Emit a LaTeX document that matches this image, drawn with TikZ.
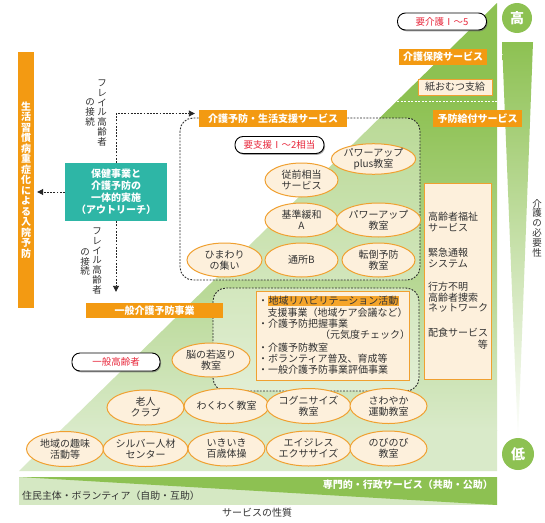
\documentclass[tikz,border=0pt]{standalone}
\usepackage{fontspec}
\setmainfont{Noto Sans CJK JP}
\usetikzlibrary{arrows.meta,calc,shadows,shapes.geometric}
\definecolor{gdark}{HTML}{8DC152}
\definecolor{glight}{HTML}{D9EAC9}
\definecolor{gband}{HTML}{D5E8C3}
\definecolor{orng}{HTML}{F39A12}
\definecolor{teal2}{HTML}{2EB6A6}
\definecolor{cream}{HTML}{FDF0DC}
\definecolor{ebord}{HTML}{F0A030}
\definecolor{redt}{HTML}{E8283C}
\definecolor{txt}{HTML}{333333}
\definecolor{hilite}{HTML}{F5A52A}
\tikzset{
 obox/.style={fill=orng, text=white, font=\fontsize{10}{12}\selectfont\bfseries, inner sep=0pt, minimum height=17pt},
 bub/.style={ellipse, draw=ebord, line width=1pt, fill=cream, text=txt, font=\fontsize{10}{11}\selectfont, align=center, minimum width=77pt, minimum height=35pt, inner sep=0pt},
 pill/.style={draw=black, line width=0.9pt, fill=white, rounded corners=8pt, text=redt, font=\fontsize{9.5}{11}\selectfont, minimum width=89pt, minimum height=17pt, inner sep=0pt, drop shadow={shadow xshift=1pt,shadow yshift=-1.3pt,fill=black!60,opacity=0.6}},
 dline/.style={draw=black!85, line width=0.9pt, dash pattern=on 1.8pt off 1.4pt},
 darr/.style={dline, -{Triangle[length=6pt,width=6pt]}},
 dbox/.style={dline, rounded corners=13pt, fill=white, fill opacity=0.38},
 vcol/.style={align=center, inner sep=0pt, font=\fontsize{9.5}{9.8}\selectfont, text=txt},
 lst/.style={anchor=west, inner sep=0pt, font=\fontsize{10}{11}\selectfont, text=txt},
 cbox/.style={draw=ebord, line width=1pt, fill=cream, inner sep=0pt},
 gcirc/.style={circle, fill=gdark, text=white, font=\fontsize{14}{14}\selectfont\bfseries, inner sep=0pt},
}
\begin{document}
\begin{tikzpicture}[x=1pt,y=-1pt]
\useasboundingbox (0,0) rectangle (545,522);
\fill[white] (0,0) rectangle (545,522);
% triangle
\begin{scope}
\clip (19,471) -- (497,3) -- (497,471) -- cycle;
\fill[gdark] (15,0) rectangle (500,100);
\shade[top color=gdark, bottom color=glight] (15,100) rectangle (500,430);
\fill[glight] (15,430) rectangle (500,475);
\end{scope}
\draw[white, line width=0.8pt, dash pattern=on 2pt off 1.5pt] (397,101) -- (497,101);
% gauge
\begin{scope}
\clip (502,42) -- (533,42) -- (518,440) -- cycle;
\shade[top color=gdark, bottom color=white] (500,42) rectangle (535,440);
\end{scope}
\node[gcirc, minimum size=30pt] (hi) at (517,18) {高};
\node[gcirc, minimum size=32pt] (lo) at (518,454) {低};
\node[vcol] (need) at (537,228) {介\\護\\の\\必\\要\\性};
% bottom band
\fill[gband] (19,477) rectangle (497,505);
\fill[gdark] (19,477) -- (497,477) -- (497,505) -- cycle;
\node[anchor=east, inner sep=0pt, text=white, font=\fontsize{10}{12}\selectfont\bfseries] (pub) at (493,485) {専門的・行政サービス（共助・公助）};
\node[anchor=west, inner sep=0pt, text=txt, font=\fontsize{9.9}{12}\selectfont] (vol) at (22,495.5) {住民主体・ボランティア（自助・互助）};
\node[inner sep=0pt, text=txt, font=\fontsize{10}{12}\selectfont] (nat) at (257,513) {サービスの性質};
% dashed boxes
\path[dbox] (180,118) rectangle (420,280);
\path[dbox] (213,288) rectangle (419,391);
% top labels
\node[pill] (p5) at (442,21.5) {要介護Ⅰ～5};
\node[obox, minimum width=88pt, minimum height=16pt] (kh) at (443,57) {介護保険サービス};
\node[cbox, line width=0.8pt, minimum width=74pt, minimum height=16pt, text=txt, font=\fontsize{10}{12}\selectfont] (omu) at (455,87) {紙おむつ支給};
\node[obox, minimum width=89pt] (yk) at (477.5,118.5) {予防給付サービス};
\node[obox, minimum width=148pt] (kss) at (273,118.5) {介護予防・生活支援サービス};
\node[pill] (p2) at (279.5,145) {要支援Ⅰ～2相当};
\node[obox, minimum width=137pt, minimum height=15pt] (ipp) at (154.5,310.5) {一般介護予防事業};
\node[pill, minimum width=88pt, minimum height=18pt] (pg) at (116,362) {一般高齢者};
% left bar and teal box
\node[fill=orng, minimum width=16pt, minimum height=256pt, inner sep=0pt, text=white, align=center, font=\fontsize{10}{10.5}\selectfont\bfseries] (lbar) at (26,180) {生\\活\\習\\慣\\病\\重\\症\\化\\に\\よ\\る\\入\\院\\予\\防};
\node[fill=teal2, minimum width=102pt, minimum height=58pt, inner sep=0pt, text=white, align=center, font=\fontsize{10}{12}\selectfont\bfseries] (teal) at (116,192) {保健事業と\\介護予防の\\一体的実施\\（アウトリーチ）};
\node[vcol] (f1a) at (102,113) {フ\\レ\\イ\\ル\\高\\齢\\者};
\node[vcol] (f1b) at (90,112.5) {の\\接\\続};
\node[vcol] (f2a) at (97,261) {フ\\レ\\イ\\ル\\高\\齢\\者};
\node[vcol] (f2b) at (85,262) {の\\接\\続};
\coordinate (ka) at ($(kss.west)+(-4,-5)$);
\draw[darr] (teal.north) |- (ka);
\draw[darr, shorten >=3pt] (teal.west) -- (teal.west -| lbar.east);
\draw[darr, shorten >=11pt] (teal.south) -- (teal.south |- ipp.north);
% right cream box
\node[cbox, minimum width=67pt, minimum height=196pt] (rbox) at (457.5,281) {};
\foreach \t/\yy [count=\i] in {高齢者福祉/217, サービス/228, 緊急通報/253, システム/263.5, 行方不明/287, 高齢者捜索/297.5, ネットワーク/308, 配食サービス/333}
  \node[lst, name=r\i] at (428,\yy) {\t};
\node[lst, anchor=east] (r9) at (488,345) {等};
% list box
\node[cbox, minimum width=153pt, minimum height=89pt] (lbox) at (332.5,335.5) {};
\node[lst] (l1) at (258,301) {・{\fboxsep=0.3pt\colorbox{hilite}{地域リハビリテーション活動}}};
\node[lst] (l2) at (267.5,312.5) {支援事業（地域ケア会議など）};
\node[lst] (l3) at (258,323.5) {・介護予防把握事業};
\node[lst] (l4) at (320,334.5) {（元気度チェック）};
\node[lst] (l5) at (258,348) {・介護予防教室};
\node[lst] (l6) at (258,359) {・ボランティア普及、育成等};
\node[lst] (l7) at (258,370) {・一般介護予防事業評価事業};
% bubbles
\node[bub, minimum width=73pt, minimum height=28pt] (b1) at (373.5,159) {パワーアップ\\plus教室};
\node[bub, minimum width=73pt, minimum height=34pt] (b2) at (301.5,180) {従前相当\\サービス};
\node[bub, minimum width=73pt, minimum height=34pt] (b3) at (301.5,220) {基準緩和\\A};
\node[bub, minimum width=73pt, minimum height=34pt] (b4) at (378.5,220) {パワーアップ\\教室};
\node[bub, minimum width=75pt, minimum height=34pt] (b5) at (224.5,260) {ひまわり\\の集い};
\node[bub, minimum width=73pt, minimum height=34pt] (b6) at (301.5,260) {通所B};
\node[bub, minimum width=73pt, minimum height=34pt] (b7) at (378.5,260) {転倒予防\\教室};
\node[bub, minimum width=78pt, minimum height=34pt] (b8) at (211,360) {脳の若返り\\教室};
\node[bub] (b9) at (145.5,407.5) {老人\\クラブ};
\node[bub] (b10) at (226.5,406) {わくわく教室};
\node[bub] (b11) at (308.5,406) {コグニサイズ\\教室};
\node[bub] (b12) at (388.5,406) {さわやか\\運動教室};
\node[bub] (b13) at (65,449) {地域の趣味\\活動等};
\node[bub] (b14) at (145.5,449) {シルバー人材\\センター};
\node[bub] (b15) at (226.5,448.5) {いきいき\\百歳体操};
\node[bub] (b16) at (308.5,448.5) {エイジレス\\エクササイズ};
\node[bub] (b17) at (388.5,448.5) {のびのび\\教室};
\end{tikzpicture}
\end{document}
